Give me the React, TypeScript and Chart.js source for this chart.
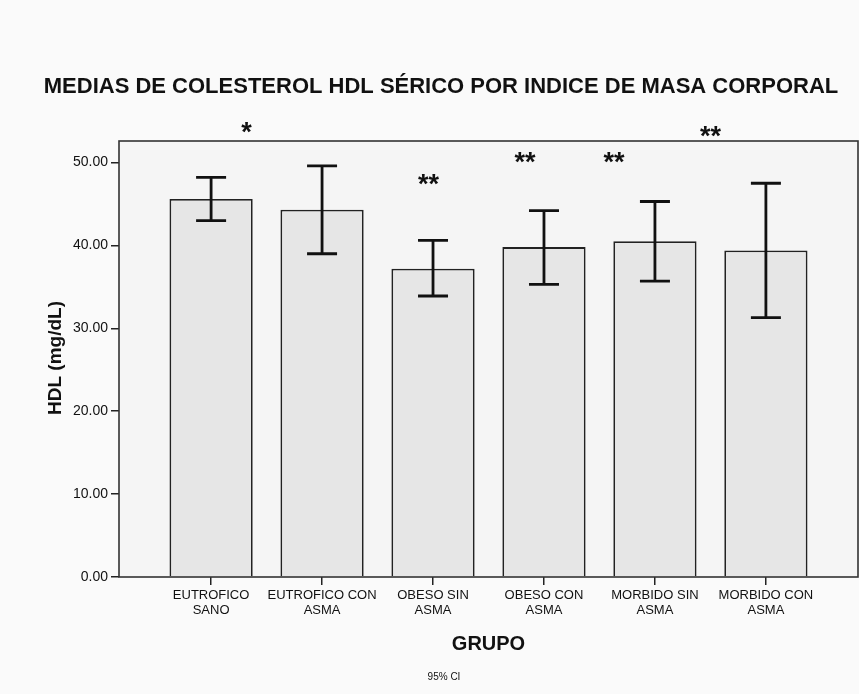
import React, { useEffect, useRef } from "react";
import { Chart, registerables } from "chart.js";

Chart.register(...registerables);

const categories: string[][] = [
  ["EUTROFICO", "SANO"],
  ["EUTROFICO CON", "ASMA"],
  ["OBESO SIN", "ASMA"],
  ["OBESO CON", "ASMA"],
  ["MORBIDO SIN", "ASMA"],
  ["MORBIDO CON", "ASMA"],
];
const groupPositions = [1, 2, 3, 4, 5, 6];
const means = [45.6, 44.3, 37.2, 39.8, 40.5, 39.4];
const ciLower = [43.0, 39.0, 33.9, 35.3, 35.7, 31.3];
const ciUpper = [48.2, 49.6, 40.6, 44.2, 45.3, 47.5];
const yTicks = [0, 10, 20, 30, 40, 50];
const markLabels = ["*", "**", "**", "**", "**"];
const markX = [1.32, 2.96, 3.83, 4.63, 5.5];
const markY = [54.2, 47.9, 50.6, 50.6, 53.7];

const TITLE = "MEDIAS DE COLESTEROL HDL SÉRICO POR INDICE DE MASA CORPORAL";
const Y_TITLE = "HDL (mg/dL)";
const X_TITLE = "GRUPO";
const FOOT = "95% CI";

const FONT = "'Liberation Sans', Arial, sans-serif";

export default function App() {
  const ref = useRef<HTMLCanvasElement | null>(null);

  useEffect(() => {
    if (!ref.current) return;
    const decor = {
      id: "decor",
      beforeDraw(chart: any) {
        const { ctx, chartArea: a } = chart;
        ctx.save();
        ctx.fillStyle = "#fafafa";
        ctx.fillRect(0, 0, chart.width, chart.height);
        ctx.fillStyle = "#f5f5f5";
        ctx.fillRect(a.left, a.top, a.right - a.left, a.bottom - a.top);
        ctx.restore();
      },
      afterDatasetsDraw(chart: any) {
        const { ctx, chartArea: a, scales } = chart;
        const xs = scales.x;
        const ys = scales.y;
        ctx.save();
        // error bars
        ctx.strokeStyle = "#111";
        ctx.lineWidth = 2.8;
        ctx.lineCap = "butt";
        const cap = 15;
        groupPositions.forEach((p, i) => {
          const x = xs.getPixelForValue(p);
          const yl = ys.getPixelForValue(ciLower[i]);
          const yu = ys.getPixelForValue(ciUpper[i]);
          ctx.beginPath();
          ctx.moveTo(x, yl);
          ctx.lineTo(x, yu);
          ctx.moveTo(x - cap, yl);
          ctx.lineTo(x + cap, yl);
          ctx.moveTo(x - cap, yu);
          ctx.lineTo(x + cap, yu);
          ctx.stroke();
        });
        // frame
        ctx.strokeStyle = "#333";
        ctx.lineWidth = 1.6;
        ctx.strokeRect(a.left, a.top, a.right - a.left, a.bottom - a.top);
        // significance marks
        ctx.fillStyle = "#111";
        const ms = 27;
        ctx.font = `bold ${ms}px ${FONT}`;
        ctx.textAlign = "center";
        ctx.textBaseline = "alphabetic";
        markLabels.forEach((m, i) => {
          const x = xs.getPixelForValue(markX[i]);
          const y = ys.getPixelForValue(markY[i]);
          ctx.fillText(m, x, y + ms * 0.5);
        });
        // titles
        ctx.textBaseline = "middle";
        ctx.font = `bold 22px ${FONT}`;
        ctx.fillText(TITLE, 441, 87);
        ctx.font = `bold 20px ${FONT}`;
        ctx.fillText(X_TITLE, (a.left + a.right) / 2, 644);
        ctx.font = `10px ${FONT}`;
        ctx.fillText(FOOT, 444, 677);
        ctx.translate(56, 358);
        ctx.rotate(-Math.PI / 2);
        ctx.font = `bold 19px ${FONT}`;
        ctx.fillText(Y_TITLE, 0, 0);
        ctx.restore();
      },
    };

    const chart = new Chart(ref.current, {
      type: "bar",
      data: {
        datasets: [
          {
            data: groupPositions.map((p, i) => ({ x: p, y: means[i] })),
            backgroundColor: "#e6e6e6",
            borderColor: "#222",
            borderWidth: 1.8,
            barPercentage: 0.75,
            categoryPercentage: 1,
          },
        ],
      },
      options: {
        animation: false,
        responsive: false,
        devicePixelRatio: 1,
        layout: { padding: { top: 141, right: 1, left: 0, bottom: 0 } },
        plugins: {
          legend: { display: false },
          tooltip: { enabled: false },
          title: { display: false },
        },
        scales: {
          x: {
            type: "linear",
            offset: false,
            min: 0.17,
            max: 6.83,
            afterBuildTicks: (s: any) => {
              s.ticks = groupPositions.map((v) => ({ value: v }));
            },
            afterFit: (s: any) => {
              s.height = 117;
            },
            grid: {
              display: true,
              offset: false,
              drawOnChartArea: false,
              drawTicks: true,
              tickLength: 8,
              color: "#222",
              lineWidth: 1.5,
            },
            border: { display: false },
            ticks: {
              autoSkip: false,
              maxRotation: 0,
              padding: 3,
              color: "#111",
              font: { family: FONT, size: 13, lineHeight: 1.15 },
              callback: (v: any) => categories[Math.round(Number(v)) - 1] || "",
            },
          },
          y: {
            min: 0,
            max: 52.6,
            afterBuildTicks: (s: any) => {
              s.ticks = yTicks.map((v) => ({ value: v }));
            },
            afterFit: (s: any) => {
              s.width = 119;
            },
            grid: {
              display: true,
              drawOnChartArea: false,
              drawTicks: true,
              tickLength: 8,
              color: "#222",
              lineWidth: 1.5,
            },
            border: { display: false },
            ticks: {
              padding: 3,
              color: "#111",
              font: { family: FONT, size: 14 },
              callback: (v: any) => Number(v).toFixed(2),
            },
          },
        },
      },
      plugins: [decor],
    } as any);
    return () => chart.destroy();
  }, []);

  return (
    <div style={{ position: "fixed", left: 0, top: 0, width: 859, height: 694 }}>
      <canvas ref={ref} width={859} height={694} style={{ display: "block" }} />
    </div>
  );
}
